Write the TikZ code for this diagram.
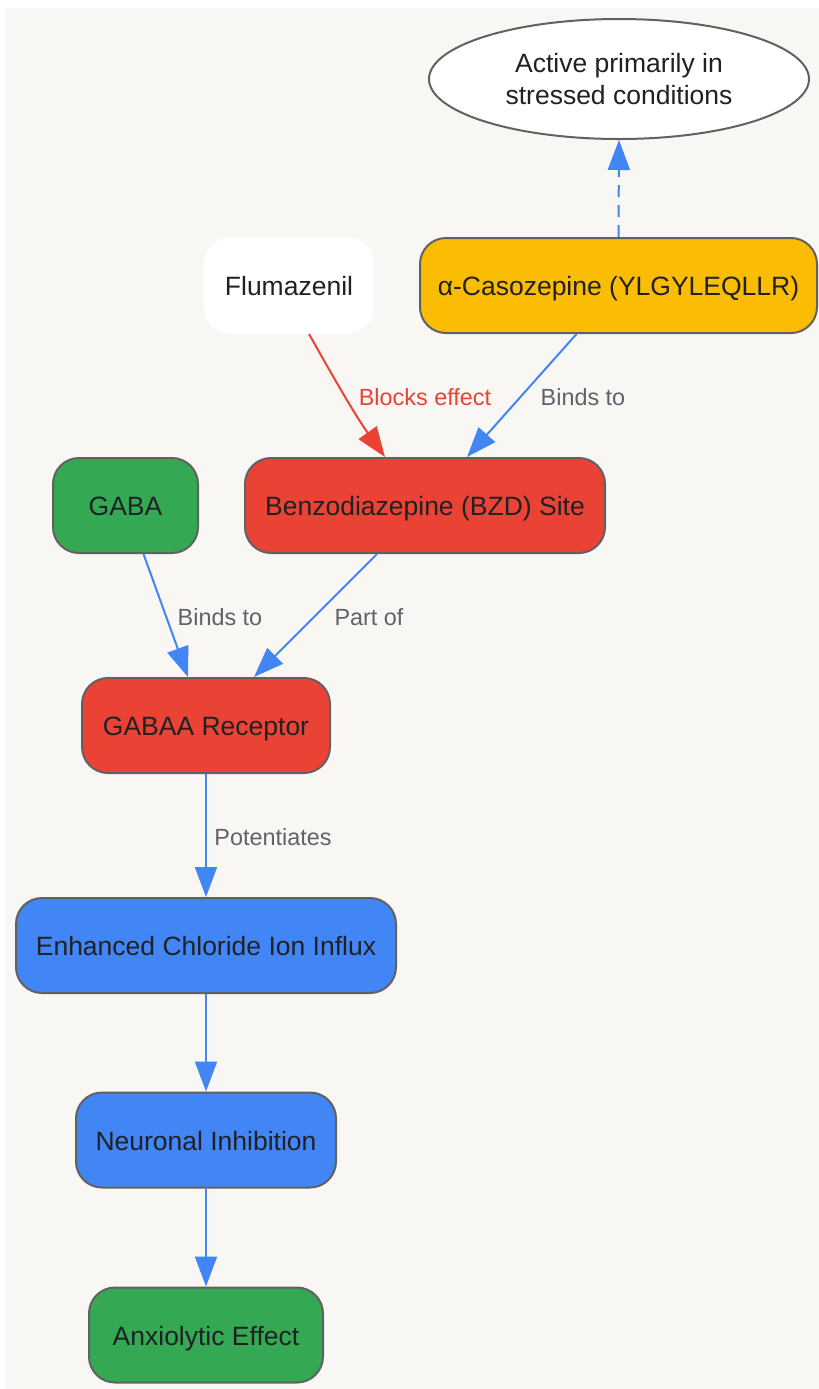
\documentclass[tikz,border=0pt]{standalone}
\usepackage{fontspec}
\setmainfont{Liberation Sans}
\usetikzlibrary{arrows.meta,shapes.geometric,calc}
\definecolor{bgc}{HTML}{F8F7F4}
\definecolor{gr}{HTML}{34A853}
\definecolor{rd}{HTML}{EA4335}
\definecolor{bl}{HTML}{4285F4}
\definecolor{yl}{HTML}{FBBC04}
\definecolor{bd}{HTML}{616161}
\definecolor{tx}{HTML}{202124}
\definecolor{lg}{HTML}{5F6368}
\tikzset{
  box/.style={draw=bd, line width=1pt, rounded corners=13pt, minimum height=47.5pt,
    text=tx, font=\fontsize{13.25}{16}\selectfont, inner sep=0pt,
    text height=13pt, text depth=2.7pt},
  lbl/.style={font=\fontsize{11.7}{14}\selectfont, text=lg, inner sep=1pt},
  conn/.style={line width=1pt, draw=bl, -{Triangle[length=15pt,width=11pt]}},
}
\begin{document}
\begin{tikzpicture}[x=0.5pt,y=-0.5pt]
\useasboundingbox (0,0) rectangle (819,1389);
\fill[bgc] (6,8) rectangle (819,1389);

\node[ellipse, draw=bd, line width=1pt, fill=white, minimum width=190pt, minimum height=60pt,
  text=tx, font=\fontsize{13.25}{16}\selectfont, align=center, inner sep=0pt]
  (act) at (619,79) {Active primarily in\\stressed conditions};
\node[box, draw=white, fill=white, minimum width=84pt] (flu) at (289,285.5) {Flumazenil};
\node[box, fill=yl, minimum width=198.5pt] (caso) at (618.5,285.5) {α-Casozepine (YLGYLEQLLR)};
\node[box, fill=gr, minimum width=72.5pt] (gaba) at (125.5,505.5) {GABA};
\node[box, fill=rd, minimum width=180pt] (bzd) at (425,505.5) {Benzodiazepine (BZD) Site};
\node[box, fill=rd, minimum width=124pt] (gabaa) at (206,725.5) {GABAA Receptor};
\node[box, fill=bl, minimum width=190pt] (enh) at (206,945.5) {Enhanced Chloride Ion Influx};
\node[box, fill=bl, minimum width=130pt] (neu) at (206,1140) {Neuronal Inhibition};
\node[box, fill=gr, minimum width=117pt] (anx) at (206,1335) {Anxiolytic Effect};

\draw[conn, dash pattern=on 6pt off 4pt] (caso.north) -- (act.south);
\draw[conn, draw=rd, -{Triangle[length=15pt,width=11pt,fill=rd]}]
  ($(flu.south)+(20,0)$) .. controls (335,380) and (355,415) .. ($(bzd.north)+(-40,0)$);
\draw[conn] ($(caso.south)+(-42,0)$) -- ($(bzd.north)+(42,0)$);
\draw[conn] ($(gaba.south)+(18,0)$) -- ($(gabaa.north)+(-18,0)$);
\draw[conn] ($(bzd.south)+(-48,0)$) -- ($(gabaa.north)+(48,0)$);
\draw[conn] (gabaa.south) -- (enh.north);
\draw[conn] (enh.south) -- (neu.north);
\draw[conn] (neu.south) -- (anx.north);

\node[lbl, text=rd] (l1) at (425,397) {Blocks effect};
\node[lbl] (l2) at (583,397) {Binds to};
\node[lbl] (l3) at (220,617) {Binds to};
\node[lbl] (l4) at (369,617) {Part of};
\node[lbl] (l5) at (273,837) {Potentiates};
\end{tikzpicture}
\end{document}
